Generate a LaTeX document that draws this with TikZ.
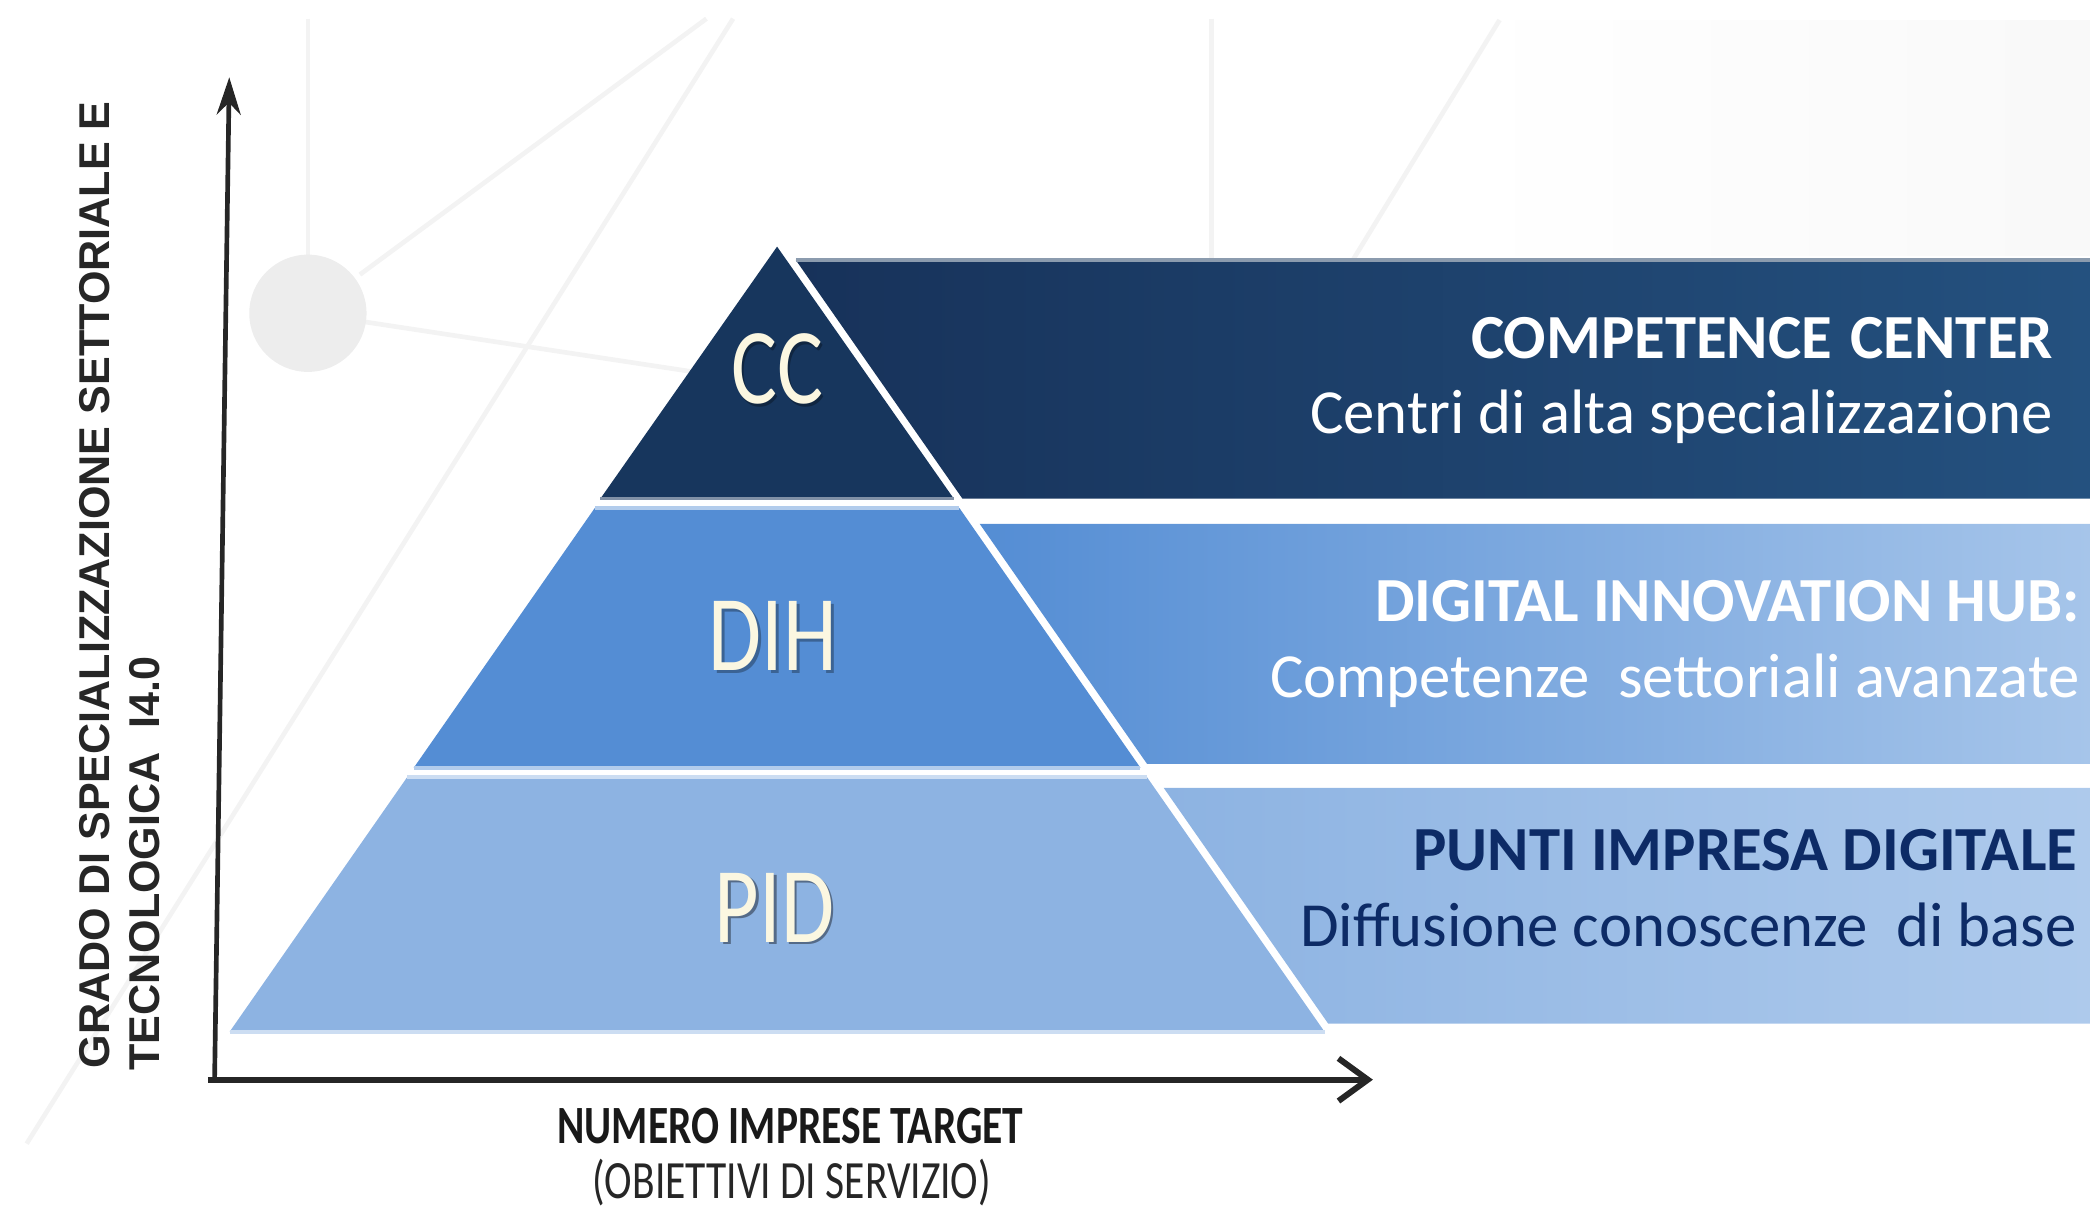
\documentclass[tikz,border=0pt]{standalone}
\usepackage{tikz}
\usepackage{graphicx}
\usetikzlibrary{arrows.meta}
\usepackage{xcolor}
\usepackage{fontspec}
\setmainfont{Carlito}
\newfontfamily\axisfont{Liberation Sans}
\definecolor{ccblue}{HTML}{17365D}
\definecolor{ccbandL}{HTML}{17325A}
\definecolor{ccbandR}{HTML}{24517F}
\definecolor{dihblue}{HTML}{548DD4}
\definecolor{dihbandR}{HTML}{A6C5EA}
\definecolor{pidblue}{HTML}{8DB3E2}
\definecolor{pidbandR}{HTML}{AECAEC}
\definecolor{pidtext}{HTML}{0D2B66}
\definecolor{cream}{HTML}{FBF7E1}
\definecolor{bgline}{HTML}{F3F3F3}
\newcommand{\bandfont}{\fontsize{13.4}{16}\selectfont}
\newcommand{\layerfont}{\fontsize{23}{23}\selectfont}

\begin{document}
\begin{tikzpicture}[x=0.1mm,y=-0.1mm,
    layer/.style={text=cream, font=\layerfont, inner sep=0},
    layershadow/.style={font=\layerfont, inner sep=0},
    bandhead/.style={font=\bandfont\bfseries, anchor=base east, inner sep=0},
    bandsub/.style={font=\bandfont, anchor=base east, inner sep=0},
    axis/.style={line width=0.35mm, draw=black!85}]
    \useasboundingbox (0,0) rectangle (1568,907);

    % background network
    \shade[left color=white, right color=black!2.5] (1100,15) rectangle (1568,192);
    \draw[bgline, line width=0.35mm] (231,14) -- (231,200);
    \draw[bgline, line width=0.35mm] (270,206) -- (530,14);
    \draw[bgline, line width=0.35mm] (550,14) -- (20,858);
    \draw[bgline, line width=0.35mm] (231,235) -- (560,285);
    \draw[bgline, line width=0.35mm] (909,14) -- (909,195);
    \draw[bgline, line width=0.35mm] (1125,15) -- (1015,195);
    \fill[black!7] (231,235) circle (44);

    % pyramid
    \fill[ccblue] (583,185) -- (715.5,374) -- (450.5,374) -- cycle;
    \draw[ccblue!55!white, line width=0.25mm] (450.5,374) -- (715.5,374);
    \fill[dihblue] (446.3,381) -- (719.7,381) -- (855.6,576) -- (310.4,576) -- cycle;
    \draw[dihblue!45!white, line width=0.3mm] (446.3,381) -- (719.7,381);
    \draw[dihblue!45!white, line width=0.3mm] (310.4,576) -- (855.6,576);
    \fill[pidblue] (305.5,583) -- (860.5,583) -- (993.7,774) -- (172.3,774) -- cycle;
    \draw[pidblue!45!white, line width=0.3mm] (305.5,583) -- (860.5,583);
    \draw[pidblue!45!white, line width=0.3mm] (172.3,774) -- (993.7,774);

    % bands
    \shade[left color=ccbandL, right color=ccbandR] (597,195) -- (1568,195) -- (1568,374) -- (722,374) -- cycle;
    \draw[ccblue!50!white, line width=0.25mm] (597,195) -- (1568,195);
    \shade[left color=dihblue, middle color=dihblue, right color=dihbandR] (735,393) -- (1568,393) -- (1568,573) -- (860.5,573) -- cycle;
    \shade[left color=pidblue, middle color=pidblue, right color=pidbandR] (873,591) -- (1568,591) -- (1568,768) -- (996.5,768) -- cycle;

    % layer labels
    \node[layershadow, text=ccblue!70!black] at (585,279) {\scalebox{0.8}[1]{CC}};
    \node[layer] (cc) at (583,277) {\scalebox{0.8}[1]{CC}};
    \node[layershadow, text=dihblue!70!black] at (582,479) {\scalebox{0.8}[1]{DIH}};
    \node[layer] (dih) at (580,477) {\scalebox{0.8}[1]{DIH}};
    \node[layershadow, text=pidblue!60!black] at (583,683) {\scalebox{0.8}[1]{PID}};
    \node[layer] (pid) at (581,681) {\scalebox{0.8}[1]{PID}};

    % band texts
    \node[bandhead, text=white] (cchead) at (1541,269) {COMPETENCE\hspace{0.3em}CENTER};
    \node[bandsub, text=white] (ccsub) at (1541,325) {Centri\ di alta specializzazione};
    \node[bandhead, text=white] (dihhead) at (1561,466) {DIGITAL INNOVATION HUB:};
    \node[bandsub, text=white] (dihsub) at (1561,523) {Competenze\ \ settoriali avanzate};
    \node[bandhead, text=pidtext] (pidhead) at (1559,653) {PUNTI IMPRESA DIGITALE};
    \node[bandsub, text=pidtext] (pidsub) at (1559,710) {Diffusione conoscenze\ \ di base};

    % axes
    \coordinate (yo) at (161,810);
    \coordinate (ytop) at (172,58);
    \coordinate (xo) at (156,810);
    \coordinate (xend) at (1030,810);
    \draw[axis, -{Stealth[length=2.8mm, width=1.8mm, inset=0.9mm]}] (yo) -- (ytop);
    \draw[axis, line width=0.45mm, -{Straight Barb[length=2.2mm, width=3.2mm]}] (xo) -- (xend);

    % axis labels
    \node[rotate=90, anchor=base west, inner sep=0, font=\axisfont\bfseries\fontsize{9.2}{10}\selectfont, text=black!85] (ylab) at (82,802) {GRADO DI SPECIALIZZAZIONE SETTORIALE E};
    \node[rotate=90, anchor=base west, inner sep=0, font=\axisfont\bfseries\fontsize{9.2}{10}\selectfont, text=black!85] (ylabb) at (120,804) {TECNOLOGICA\ \ I4.0};
    \node[inner sep=0, font=\bfseries\fontsize{11.5}{12}\selectfont, text=black!90] (xlab) at (593,845) {\scalebox{0.77}[1]{NUMERO IMPRESE TARGET}};
    \node[inner sep=0, font=\fontsize{11.5}{12}\selectfont, text=black!85] (xlabb) at (594,887) {\scalebox{0.77}[1]{(OBIETTIVI DI SERVIZIO)}};
\end{tikzpicture}
\end{document}
